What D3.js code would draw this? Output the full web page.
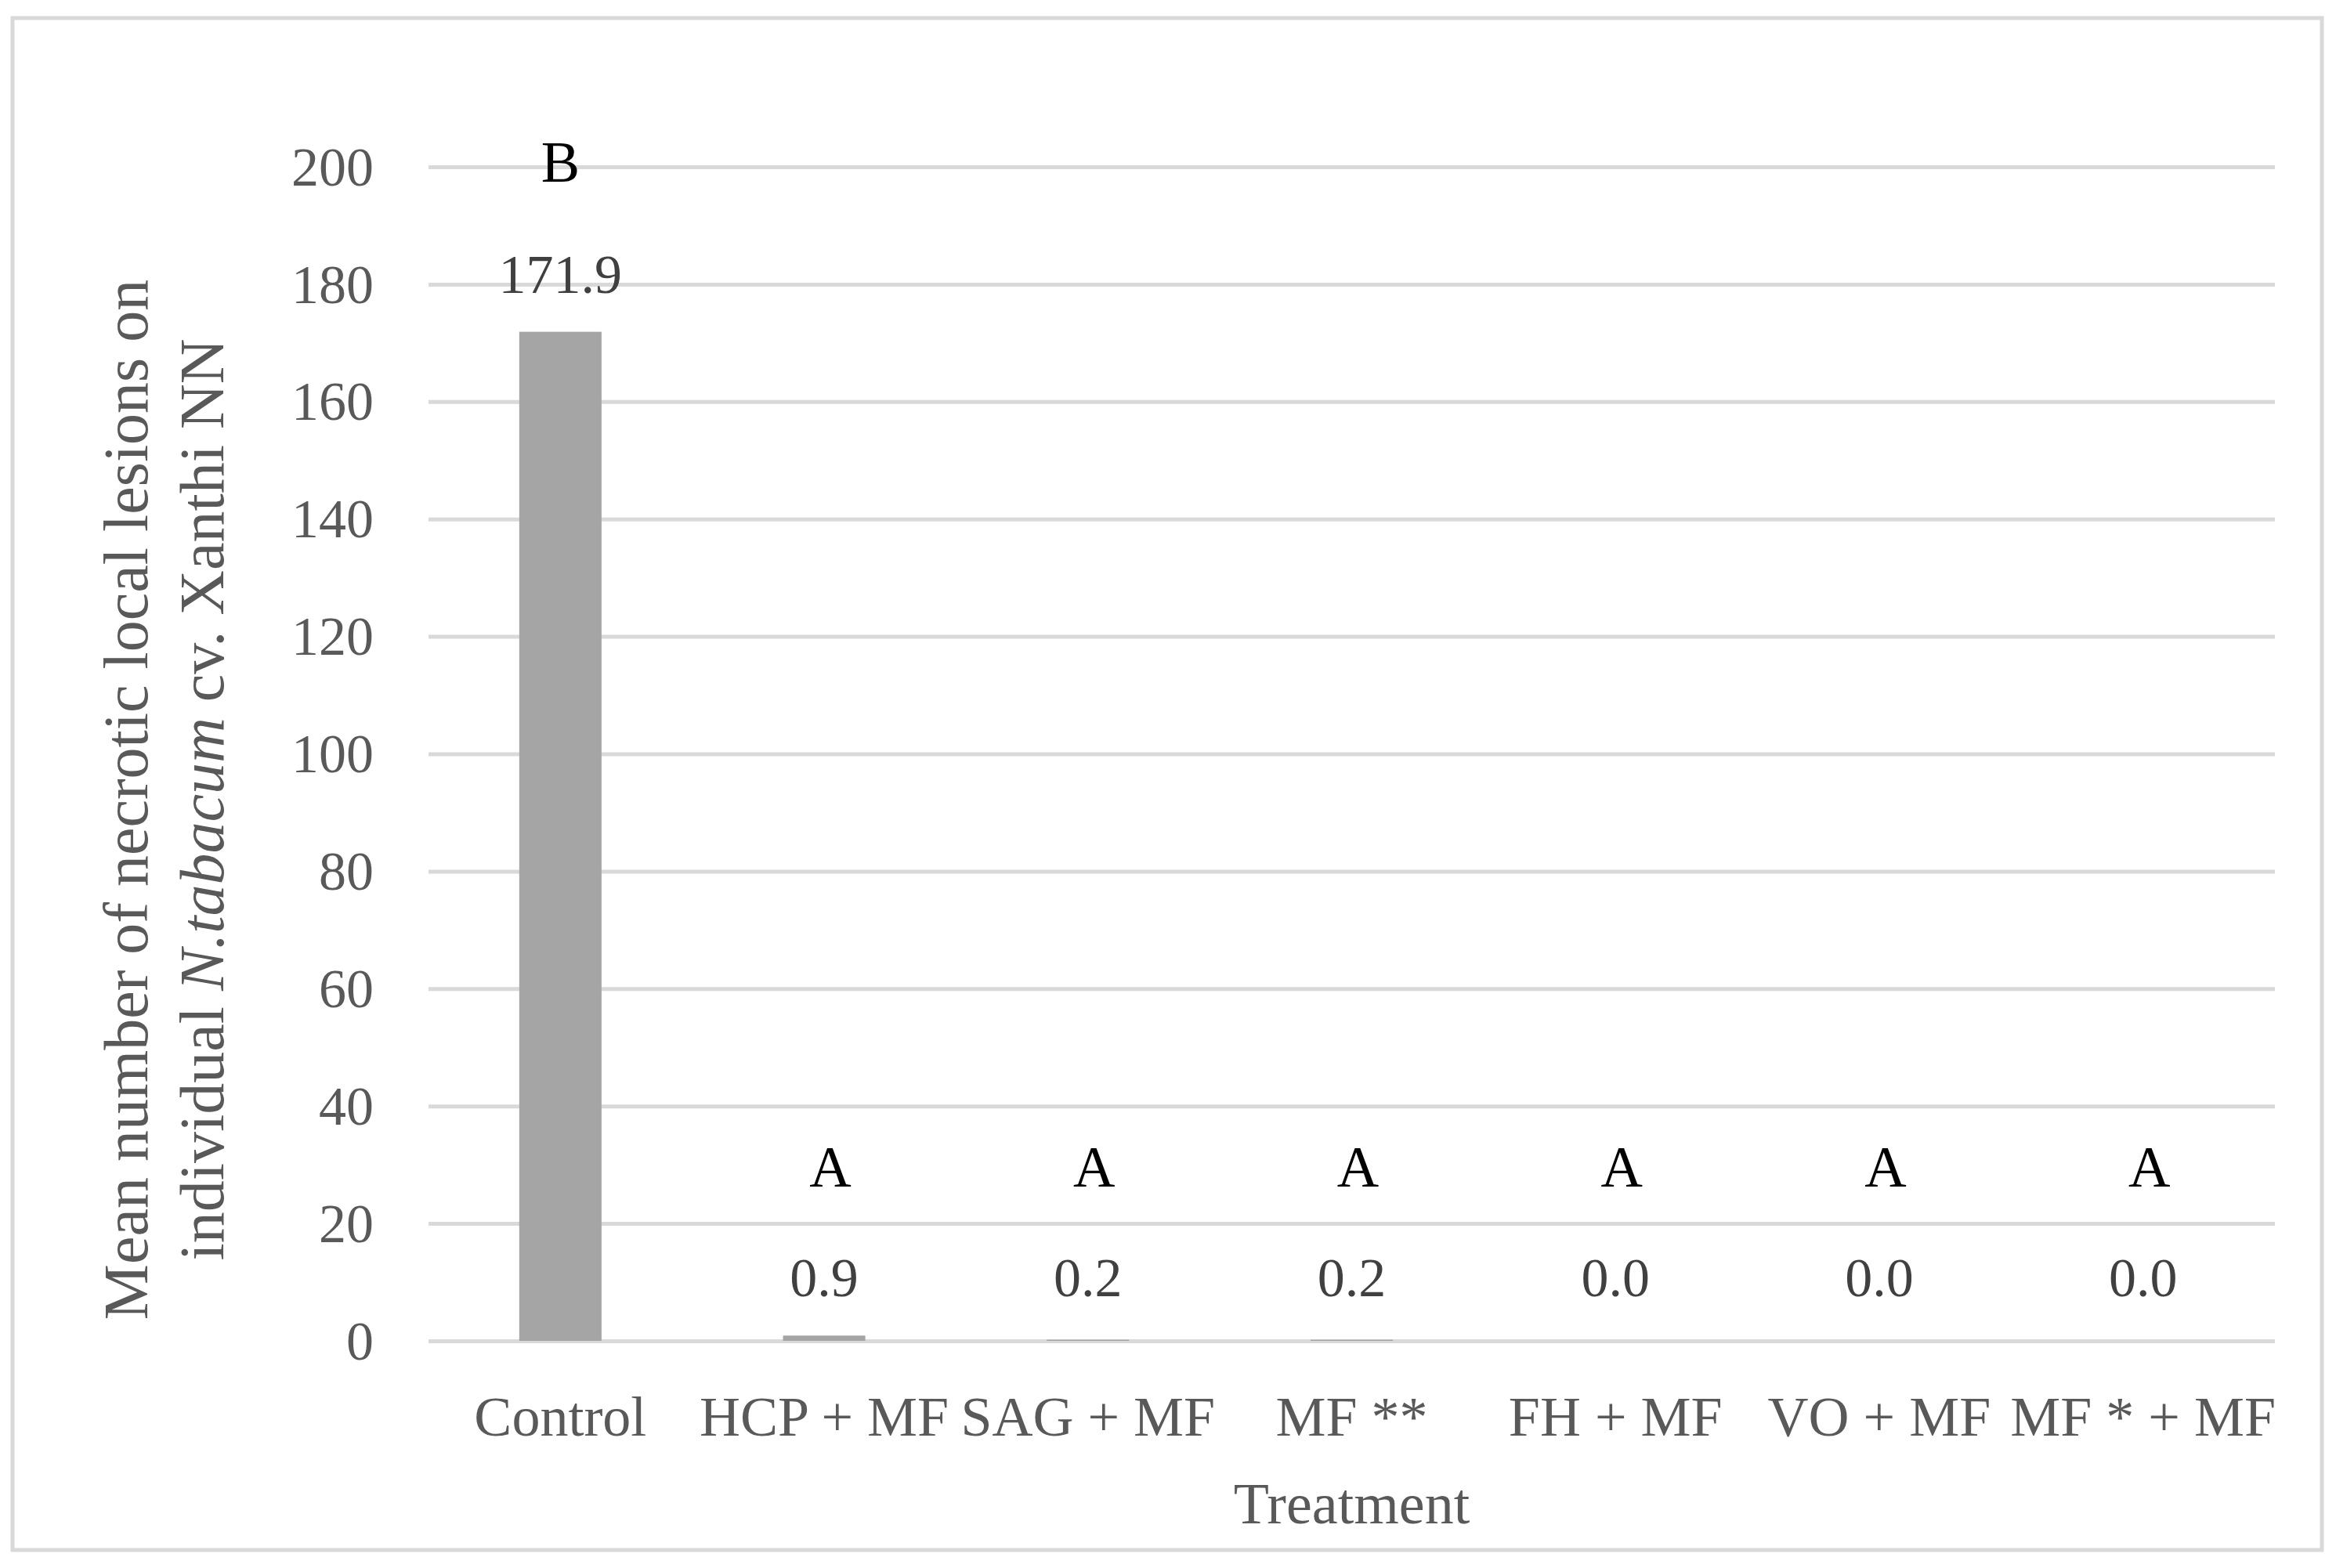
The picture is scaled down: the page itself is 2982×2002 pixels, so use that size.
<!DOCTYPE html>
<html>
<head>
<meta charset="utf-8">
<script src="https://cdn.jsdelivr.net/npm/d3@7"></script>
<style>
  html, body { margin: 0; padding: 0; background: #fff; }
  svg { display: block; }
  text { font-family: "Liberation Serif", "DejaVu Serif", serif; }
</style>
</head>
<body>
<div id="chart"></div>
<script>
// ---- data ----
const categories = ["Control", "HCP + MF", "SAG + MF", "MF **", "FH + MF", "VO + MF", "MF * + MF"];
const values = [171.9, 0.9, 0.2, 0.2, 0.0, 0.0, 0.0];
const valueLabels = ["171.9", "0.9", "0.2", "0.2", "0.0", "0.0", "0.0"];
const letters = ["B", "A", "A", "A", "A", "A", "A"];
const yTicks = [0, 20, 40, 60, 80, 100, 120, 140, 160, 180, 200];
const xTitle = "Treatment";

// ---- layout ----
const W = 2982, H = 2002;
const mLeft = 547, mRight = 2904, mTop = 213, mBottom = 1712;

const svg = d3.select("#chart").append("svg").attr("width", W).attr("height", H);

// frame
svg.append("rect").attr("x", 16).attr("y", 23).attr("width", 2948).attr("height", 1956)
  .attr("fill", "#fff").attr("stroke", "#d9d9d9").attr("stroke-width", 5);

const x = d3.scaleBand().domain(categories).range([mLeft, mRight])
  .paddingInner(0.688).paddingOuter(0.344);
const y = d3.scaleLinear().domain([0, 200]).range([mBottom, mTop]);

// gridlines + y axis labels
const yAxis = d3.axisLeft(y).tickValues(yTicks).tickSize(-(mRight - mLeft)).tickPadding(70);
const gy = svg.append("g").attr("transform", `translate(${mLeft},0)`).call(yAxis);
gy.select(".domain").remove();
gy.selectAll(".tick line").attr("stroke", "#d9d9d9").attr("stroke-width", 5);
gy.selectAll(".tick text").attr("fill", "#595959").attr("font-size", 70)
  .attr("font-family", "Liberation Serif").attr("dy", "0.33em");

// x axis labels
const xAxis = d3.axisBottom(x).tickSize(0).tickPadding(70);
const gx = svg.append("g").attr("transform", `translate(0,${mBottom})`).call(xAxis);
gx.select(".domain").remove();
gx.selectAll(".tick text").attr("fill", "#595959").attr("font-size", 72)
  .attr("font-family", "Liberation Serif").attr("dy", "0.71em");

// bars
svg.append("g").selectAll("rect").data(values).join("rect")
  .attr("x", (d, i) => x(categories[i]))
  .attr("width", x.bandwidth())
  .attr("y", d => y(d))
  .attr("height", d => y(0) - y(d))
  .attr("fill", "#a5a5a5");

// value labels
svg.append("g").selectAll("text").data(valueLabels).join("text")
  .attr("x", (d, i) => x(categories[i]) + x.bandwidth() / 2)
  .attr("y", (d, i) => i === 0 ? y(178.5) : y(7.6))
  .attr("text-anchor", "middle").attr("font-size", 70).attr("fill", "#404040")
  .text(d => d);

// significance letters
svg.append("g").selectAll("text").data(letters).join("text")
  .attr("x", (d, i) => x(categories[i]) + x.bandwidth() / 2 + (i === 0 ? 0 : 8))
  .attr("y", (d, i) => i === 0 ? y(197.4) : y(26.3))
  .attr("text-anchor", "middle").attr("font-size", 74).attr("fill", "#000")
  .text(d => d);

// x title
svg.append("text").attr("x", (mLeft + mRight) / 2).attr("y", 1945)
  .attr("text-anchor", "middle").attr("font-size", 74).attr("fill", "#595959")
  .text(xTitle);

// y title (two lines, rotated)
const cy = 1021;
svg.append("text").attr("transform", `translate(188,${cy}) rotate(-90)`)
  .attr("text-anchor", "middle").attr("font-size", 80).attr("fill", "#595959")
  .text("Mean number of necrotic local lesions on");
const t2 = svg.append("text").attr("transform", `translate(285,${cy}) rotate(-90)`)
  .attr("text-anchor", "middle").attr("font-size", 80).attr("fill", "#595959");
t2.append("tspan").text("individual ");
t2.append("tspan").attr("font-style", "italic").text("N.tabacum");
t2.append("tspan").text(" cv. Xanthi NN");
</script>
</body>
</html>
